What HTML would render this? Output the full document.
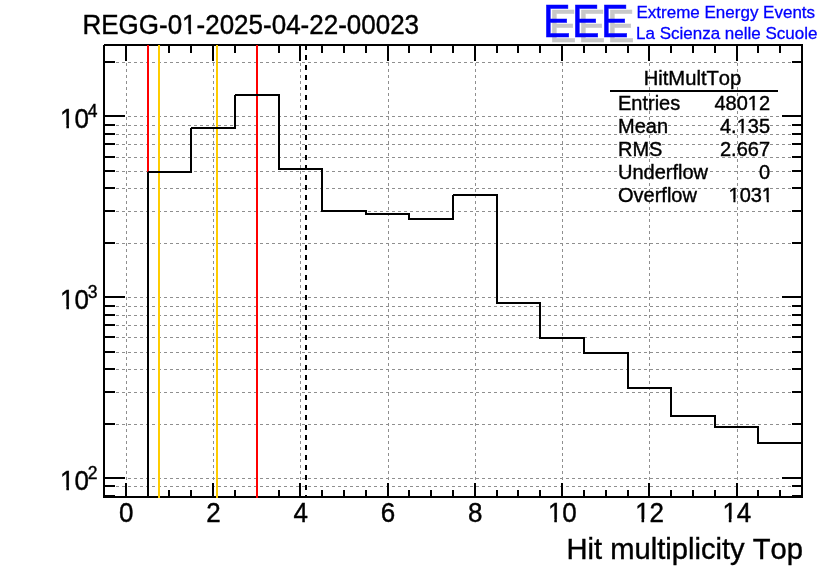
<!DOCTYPE html>
<html><head><meta charset="utf-8"><title>HitMultTop</title>
<style>
html,body{margin:0;padding:0;background:#fff;}
body{width:836px;height:572px;overflow:hidden;}
svg{display:block;}
text{font-family:"Liberation Sans",Arial,sans-serif;font-kerning:none;}
</style></head><body>
<svg width="836" height="572" viewBox="0 0 836 572">
<rect width="836" height="572" fill="#fff"/>
<g shape-rendering="crispEdges">
<line x1="104" y1="496.5" x2="802" y2="496.5" stroke="#8f8f8f" stroke-width="1" stroke-dasharray="3 3"/>
<line x1="104" y1="486.5" x2="802" y2="486.5" stroke="#8f8f8f" stroke-width="1" stroke-dasharray="3 3"/>
<line x1="104" y1="478.5" x2="802" y2="478.5" stroke="#8f8f8f" stroke-width="1" stroke-dasharray="3 3"/>
<line x1="104" y1="424.5" x2="802" y2="424.5" stroke="#8f8f8f" stroke-width="1" stroke-dasharray="3 3"/>
<line x1="104" y1="392.5" x2="802" y2="392.5" stroke="#8f8f8f" stroke-width="1" stroke-dasharray="3 3"/>
<line x1="104" y1="369.5" x2="802" y2="369.5" stroke="#8f8f8f" stroke-width="1" stroke-dasharray="3 3"/>
<line x1="104" y1="352.5" x2="802" y2="352.5" stroke="#8f8f8f" stroke-width="1" stroke-dasharray="3 3"/>
<line x1="104" y1="337.5" x2="802" y2="337.5" stroke="#8f8f8f" stroke-width="1" stroke-dasharray="3 3"/>
<line x1="104" y1="325.5" x2="802" y2="325.5" stroke="#8f8f8f" stroke-width="1" stroke-dasharray="3 3"/>
<line x1="104" y1="315.5" x2="802" y2="315.5" stroke="#8f8f8f" stroke-width="1" stroke-dasharray="3 3"/>
<line x1="104" y1="306.5" x2="802" y2="306.5" stroke="#8f8f8f" stroke-width="1" stroke-dasharray="3 3"/>
<line x1="104" y1="297.5" x2="802" y2="297.5" stroke="#8f8f8f" stroke-width="1" stroke-dasharray="3 3"/>
<line x1="104" y1="243.5" x2="802" y2="243.5" stroke="#8f8f8f" stroke-width="1" stroke-dasharray="3 3"/>
<line x1="104" y1="211.5" x2="802" y2="211.5" stroke="#8f8f8f" stroke-width="1" stroke-dasharray="3 3"/>
<line x1="104" y1="188.5" x2="802" y2="188.5" stroke="#8f8f8f" stroke-width="1" stroke-dasharray="3 3"/>
<line x1="104" y1="171.5" x2="802" y2="171.5" stroke="#8f8f8f" stroke-width="1" stroke-dasharray="3 3"/>
<line x1="104" y1="157.5" x2="802" y2="157.5" stroke="#8f8f8f" stroke-width="1" stroke-dasharray="3 3"/>
<line x1="104" y1="144.5" x2="802" y2="144.5" stroke="#8f8f8f" stroke-width="1" stroke-dasharray="3 3"/>
<line x1="104" y1="134.5" x2="802" y2="134.5" stroke="#8f8f8f" stroke-width="1" stroke-dasharray="3 3"/>
<line x1="104" y1="125.5" x2="802" y2="125.5" stroke="#8f8f8f" stroke-width="1" stroke-dasharray="3 3"/>
<line x1="104" y1="116.5" x2="802" y2="116.5" stroke="#8f8f8f" stroke-width="1" stroke-dasharray="3 3"/>
<line x1="104" y1="62.5" x2="802" y2="62.5" stroke="#8f8f8f" stroke-width="1" stroke-dasharray="3 3"/>
<line x1="126.5" y1="45" x2="126.5" y2="497" stroke="#8f8f8f" stroke-width="1" stroke-dasharray="3 3"/>
<line x1="213.5" y1="45" x2="213.5" y2="497" stroke="#8f8f8f" stroke-width="1" stroke-dasharray="3 3"/>
<line x1="300.5" y1="45" x2="300.5" y2="497" stroke="#8f8f8f" stroke-width="1" stroke-dasharray="3 3"/>
<line x1="388.5" y1="45" x2="388.5" y2="497" stroke="#8f8f8f" stroke-width="1" stroke-dasharray="3 3"/>
<line x1="475.5" y1="45" x2="475.5" y2="497" stroke="#8f8f8f" stroke-width="1" stroke-dasharray="3 3"/>
<line x1="562.5" y1="45" x2="562.5" y2="497" stroke="#8f8f8f" stroke-width="1" stroke-dasharray="3 3"/>
<line x1="649.5" y1="45" x2="649.5" y2="497" stroke="#8f8f8f" stroke-width="1" stroke-dasharray="3 3"/>
<line x1="737.5" y1="45" x2="737.5" y2="497" stroke="#8f8f8f" stroke-width="1" stroke-dasharray="3 3"/>
<path d="M104,45H802V497H104V45" fill="none" stroke="#000" stroke-width="2"/>
<path d="M105,496H115M792,496H801M105,486H115M792,486H801M105,478H125M782,478H801M105,424H115M792,424H801M105,392H115M792,392H801M105,369H115M792,369H801M105,352H115M792,352H801M105,337H115M792,337H801M105,325H115M792,325H801M105,315H115M792,315H801M105,306H115M792,306H801M105,297H125M782,297H801M105,243H115M792,243H801M105,211H115M792,211H801M105,188H115M792,188H801M105,171H115M792,171H801M105,157H115M792,157H801M105,144H115M792,144H801M105,134H115M792,134H801M105,125H115M792,125H801M105,116H125M782,116H801M105,62H115M792,62H801M126,496V483M126,46V61M148,496V490M148,46V53M169,496V490M169,46V53M191,496V490M191,46V53M213,496V483M213,46V61M235,496V490M235,46V53M257,496V490M257,46V53M279,496V490M279,46V53M300,496V483M300,46V61M322,496V490M322,46V53M344,496V490M344,46V53M366,496V490M366,46V53M388,496V483M388,46V61M409,496V490M409,46V53M431,496V490M431,46V53M453,496V490M453,46V53M475,496V483M475,46V61M497,496V490M497,46V53M518,496V490M518,46V53M540,496V490M540,46V53M562,496V483M562,46V61M584,496V490M584,46V53M606,496V490M606,46V53M628,496V490M628,46V53M649,496V483M649,46V61M671,496V490M671,46V53M693,496V490M693,46V53M715,496V490M715,46V53M737,496V483M737,46V61M758,496V490M758,46V53M780,496V490M780,46V53M802,496V490M802,46V53" fill="none" stroke="#000" stroke-width="2"/>
<path d="M148,45V498M257,45V498" stroke="#ff0000" stroke-width="2"/>
<path d="M159,45V498M217,45V498" stroke="#ffcc00" stroke-width="2"/>
<path d="M306,45V498" stroke="#000" stroke-width="2" stroke-dasharray="5 5"/>
<g fill="#000"><rect x="147" y="172" width="2" height="326"/><rect x="148" y="171" width="44" height="2"/><rect x="190" y="128" width="2" height="45"/><rect x="191" y="127" width="45" height="2"/><rect x="234" y="95" width="2" height="34"/><rect x="235" y="94" width="45" height="2"/><rect x="278" y="95" width="2" height="75"/><rect x="279" y="168" width="44" height="2"/><rect x="321" y="169" width="2" height="43"/><rect x="322" y="210" width="45" height="2"/><rect x="365" y="211" width="2" height="4"/><rect x="366" y="213" width="44" height="2"/><rect x="408" y="214" width="2" height="6"/><rect x="409" y="218" width="45" height="2"/><rect x="452" y="195" width="2" height="25"/><rect x="453" y="194" width="45" height="2"/><rect x="496" y="195" width="2" height="109"/><rect x="497" y="302" width="44" height="2"/><rect x="539" y="303" width="2" height="36"/><rect x="540" y="337" width="45" height="2"/><rect x="583" y="338" width="2" height="16"/><rect x="584" y="352" width="45" height="2"/><rect x="627" y="353" width="2" height="36"/><rect x="628" y="387" width="44" height="2"/><rect x="670" y="388" width="2" height="29"/><rect x="671" y="415" width="45" height="2"/><rect x="714" y="416" width="2" height="12"/><rect x="715" y="426" width="44" height="2"/><rect x="757" y="427" width="2" height="17"/><rect x="758" y="442" width="45" height="2"/></g>
<path d="M610,91H778" stroke="#000" stroke-width="2"/>
</g>
<g transform="translate(542.9,37) scale(0.96,1.08)"><text x="6.25" y="4.6" font-size="43" letter-spacing="1.63" fill="#c8c8c8" stroke="#c8c8c8" stroke-width="0.5">EEE</text><text x="0" y="0" font-size="43" letter-spacing="1.63" fill="#0000ff" stroke="#0000ff" stroke-width="0.5">EEE</text></g>
<defs><clipPath id="c1"><path clip-rule="evenodd" d="M-10,-10H846V582H-10ZM182.66,31.06H188.62V35.50H182.66ZM191.12,31.06H196.37V35.50H191.12ZM60.48,125.06H66.44V129.50H60.48ZM68.94,125.06H74.19V129.50H68.94ZM60.48,306.06H66.44V310.50H60.48ZM68.94,306.06H74.19V310.50H68.94ZM60.48,487.06H66.44V491.50H60.48ZM68.94,487.06H74.19V491.50H68.94ZM548.38,519.06H554.34V523.50H548.38ZM556.84,519.06H562.09V523.50H556.84ZM635.63,519.06H641.59V523.50H635.63ZM644.09,519.06H649.34V523.50H644.09ZM722.88,519.06H728.84V523.50H722.88ZM731.34,519.06H736.59V523.50H731.34ZM747.78,107.61H752.68V111.60H747.78ZM754.65,107.61H758.90V111.60H754.65ZM736.65,130.51H741.56V134.50H736.65ZM743.53,130.51H747.78V134.50H743.53ZM728.53,199.21H733.44V203.20H728.53ZM735.40,199.21H739.65V203.20H735.40ZM761.90,199.21H766.81V203.20H761.90ZM768.77,199.21H773.02V203.20H768.77Z"/></clipPath></defs><g clip-path="url(#c1)"><text transform="translate(82.50,34) scale(1,1.05)" font-size="26" text-anchor="start" fill="#000" stroke="#000" stroke-width="0.4">REGG-01-2025-04-22-00023</text>
<text transform="translate(60.00,128) scale(1,1.04)" font-size="26" text-anchor="start" fill="#000" stroke="#000" stroke-width="0.4">10</text>
<text x="87.7" y="116.5" font-size="17.5" text-anchor="start" fill="#000" stroke="#000" stroke-width="0.4">4</text>
<text transform="translate(60.00,309) scale(1,1.04)" font-size="26" text-anchor="start" fill="#000" stroke="#000" stroke-width="0.4">10</text>
<text x="87.7" y="297.5" font-size="17.5" text-anchor="start" fill="#000" stroke="#000" stroke-width="0.4">3</text>
<text transform="translate(60.00,490) scale(1,1.04)" font-size="26" text-anchor="start" fill="#000" stroke="#000" stroke-width="0.4">10</text>
<text x="87.7" y="478.5" font-size="17.5" text-anchor="start" fill="#000" stroke="#000" stroke-width="0.4">2</text>
<text transform="translate(126.11,522) scale(1,1.04)" font-size="26" text-anchor="middle" fill="#000" stroke="#000" stroke-width="0.4">0</text>
<text transform="translate(213.36,522) scale(1,1.04)" font-size="26" text-anchor="middle" fill="#000" stroke="#000" stroke-width="0.4">2</text>
<text transform="translate(300.61,522) scale(1,1.04)" font-size="26" text-anchor="middle" fill="#000" stroke="#000" stroke-width="0.4">4</text>
<text transform="translate(387.86,522) scale(1,1.04)" font-size="26" text-anchor="middle" fill="#000" stroke="#000" stroke-width="0.4">6</text>
<text transform="translate(475.11,522) scale(1,1.04)" font-size="26" text-anchor="middle" fill="#000" stroke="#000" stroke-width="0.4">8</text>
<text transform="translate(562.36,522) scale(1,1.04)" font-size="26" text-anchor="middle" fill="#000" stroke="#000" stroke-width="0.4">10</text>
<text transform="translate(649.61,522) scale(1,1.04)" font-size="26" text-anchor="middle" fill="#000" stroke="#000" stroke-width="0.4">12</text>
<text transform="translate(736.86,522) scale(1,1.04)" font-size="26" text-anchor="middle" fill="#000" stroke="#000" stroke-width="0.4">14</text>
<text x="803" y="559" font-size="29.15" text-anchor="end" fill="#000" stroke="#000" stroke-width="0.4">Hit multiplicity Top</text>
<text x="692.5" y="85.4" font-size="20.2" text-anchor="middle" fill="#000" stroke="#000" stroke-width="0.4">HitMultTop</text>
<text x="618.0" y="110.1" font-size="20" text-anchor="start" fill="#000" stroke="#000" stroke-width="0.4">Entries</text>
<text transform="translate(770.00,110.1) scale(1,1.04)" font-size="20" text-anchor="end" fill="#000" stroke="#000" stroke-width="0.4">48012</text>
<text x="618.0" y="133.0" font-size="20" text-anchor="start" fill="#000" stroke="#000" stroke-width="0.4">Mean</text>
<text transform="translate(770.00,133.0) scale(1,1.04)" font-size="20" text-anchor="end" fill="#000" stroke="#000" stroke-width="0.4">4.135</text>
<text x="618.0" y="155.9" font-size="20" text-anchor="start" fill="#000" stroke="#000" stroke-width="0.4">RMS</text>
<text transform="translate(770.00,155.9) scale(1,1.04)" font-size="20" text-anchor="end" fill="#000" stroke="#000" stroke-width="0.4">2.667</text>
<text x="618.0" y="178.8" font-size="20" text-anchor="start" fill="#000" stroke="#000" stroke-width="0.4">Underflow</text>
<text transform="translate(770.00,178.8) scale(1,1.04)" font-size="20" text-anchor="end" fill="#000" stroke="#000" stroke-width="0.4">0</text>
<text x="618.0" y="201.7" font-size="20" text-anchor="start" fill="#000" stroke="#000" stroke-width="0.4">Overflow</text>
<text transform="translate(773.00,201.7) scale(1,1.04)" font-size="20" text-anchor="end" fill="#000" stroke="#000" stroke-width="0.4">1031</text>
<text x="636.5" y="17.7" font-size="17" text-anchor="start" fill="#0000ff" stroke="#0000ff" stroke-width="0.3">Extreme Energy Events</text>
<text x="636" y="38.9" font-size="17" text-anchor="start" fill="#0000ff" stroke="#0000ff" stroke-width="0.3">La Scienza nelle Scuole</text></g>
</svg>
</body></html>
